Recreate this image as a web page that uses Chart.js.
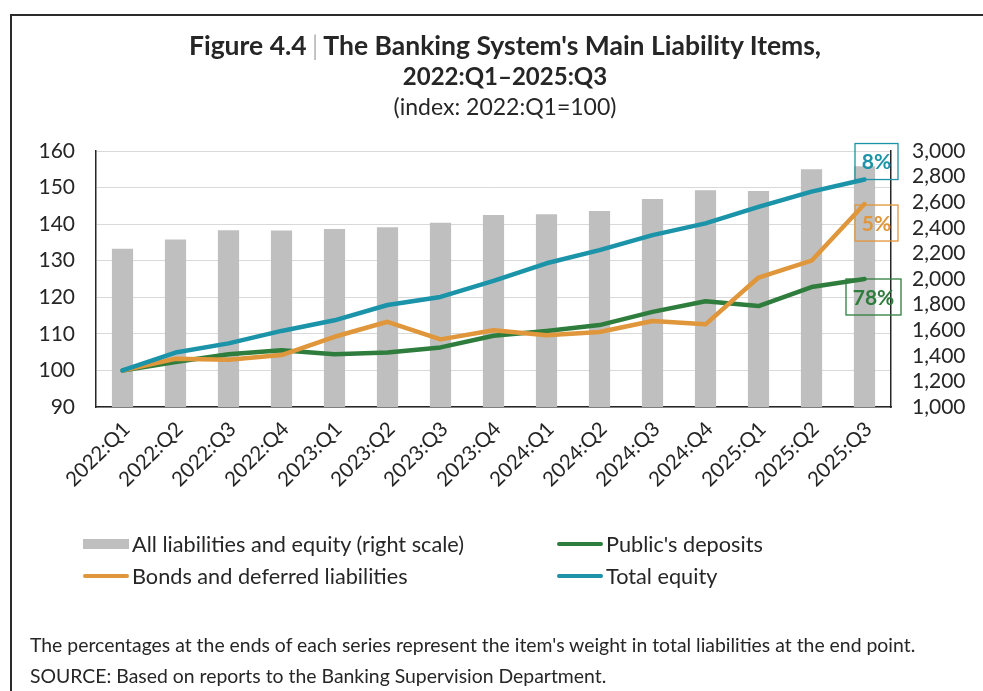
<!DOCTYPE html>
<html>
<head>
<meta charset="utf-8">
<script src="https://cdn.jsdelivr.net/npm/chart.js@4/dist/chart.umd.min.js"></script>
<style>
  html, body { margin: 0; padding: 0; background: #fff; }
  #page { position: relative; width: 983px; height: 691px; overflow: hidden; font-family: Lato, "Open Sans", sans-serif; color: #262626; }
  #frameTop { position: absolute; left: 10px; top: 14px; right: 0; height: 2px; background: #2b2b2b; }
  #frameLeft { position: absolute; left: 10px; top: 14px; width: 2px; bottom: 0; background: #2b2b2b; }
  #chart { position: absolute; left: 0; top: 0; }
  .title { position: absolute; left: 0; width: 1010px; text-align: center; white-space: nowrap; }
  .t1 { top: 30px; line-height: 30px; font-size: 26.5px; font-weight: 700; }
  .t2 { top: 61px; line-height: 30px; font-size: 24px; font-weight: 700; }
  .t3 { top: 91px; line-height: 30px; font-size: 23px; }
  .sep { color: #bfbfbf; font-weight: 400; padding: 0 5px; }
  .leg { position: absolute; display: flex; align-items: center; font-size: 21.7px; white-space: nowrap; }
  .leg .sw { width: 46px; margin-right: 3px; }
  .note { position: absolute; left: 30px; font-size: 19.4px; white-space: nowrap; }
</style>
</head>
<body>
<div id="page">
  <div id="frameTop"></div>
  <div id="frameLeft"></div>
  <canvas id="chart" width="983" height="691"></canvas>
  <div class="title t1">Figure 4.4<span class="sep">|</span>The Banking System's Main Liability Items,</div>
  <div class="title t2">2022:Q1–2025:Q3</div>
  <div class="title t3">(index: 2022:Q1=100)</div>
  <div id="legend"></div>
  <div class="note" style="top:633px">The percentages at the ends of each series represent the item's weight in total liabilities at the end point.</div>
  <div class="note" style="top:664px">SOURCE: Based on reports to the Banking Supervision Department.</div>
</div>
<script>
// Quarters shown on the category axis
const quarters = ['2022:Q1','2022:Q2','2022:Q3','2022:Q4','2023:Q1','2023:Q2','2023:Q3','2023:Q4',
                  '2024:Q1','2024:Q2','2024:Q3','2024:Q4','2025:Q1','2025:Q2','2025:Q3'];

// All liabilities and equity (right scale)
const totalLiabilities = [2237, 2308, 2380, 2378, 2390, 2404, 2440, 2500, 2505, 2531, 2625, 2693, 2688, 2857, 2880];

// Index series, 2022:Q1 = 100
const publicDeposits = [100, 102.3, 104.4, 105.5, 104.4, 104.9, 106.3, 109.5, 110.8, 112.4, 116.0, 118.9, 117.6, 122.8, 125.0];
const bondsDeferred  = [100, 103.2, 102.9, 104.2, 109.2, 113.3, 108.5, 111.0, 109.6, 110.5, 113.5, 112.6, 125.4, 130.0, 145.5];
const totalEquity    = [100, 104.9, 107.4, 110.8, 113.7, 117.9, 120.1, 124.5, 129.3, 132.9, 137.0, 140.2, 144.7, 148.9, 152.2];

// Weight of each item in total liabilities at the last quarter
const depositsShare = '78%';
const bondsShare = '5%';
const equityShare = '8%';

// Axis ticks
const leftTicks = [90, 100, 110, 120, 130, 140, 150, 160];
const rightTicks = [1000, 1200, 1400, 1600, 1800, 2000, 2200, 2400, 2600, 2800, 3000];

const GRAY = '#bfbfbf', GREEN = '#2e7d3c', ORANGE = '#e0963a', TEAL = '#1b93a9';
const TEXT = '#262626', AXIS = '#262626';
const FONT = 'Lato, "Open Sans", sans-serif';

// Boxed share label next to the final point of a line series
const endLabels = {
  id: 'endLabels',
  afterDatasetsDraw(chart) {
    const ctx = chart.ctx;
    chart.data.datasets.forEach((ds, i) => {
      if (!ds.endShare) return;
      const meta = chart.getDatasetMeta(i);
      const pt = meta.data[meta.data.length - 1];
      const px = pt.x, py = pt.y;
      let x0, x1, y0, y1;
      if (ds.endPlace === 'above') { x0 = px - 9.5; x1 = px + 33.5; y0 = py - 36; y1 = py; }
      else if (ds.endPlace === 'below') { x0 = px - 9.5; x1 = px + 33.5; y0 = py + 1; y1 = py + 37; }
      else { x0 = px - 18.5; x1 = px + 36.5; y0 = py; y1 = py + 36; }
      ctx.save();
      ctx.strokeStyle = ds.borderColor;
      ctx.lineWidth = 1.3;
      ctx.strokeRect(x0, y0, x1 - x0, y1 - y0);
      ctx.fillStyle = ds.borderColor;
      ctx.font = 'bold 21px ' + FONT;
      ctx.textAlign = 'center';
      ctx.textBaseline = 'middle';
      ctx.fillText(ds.endShare, (x0 + x1) / 2, (y0 + y1) / 2 + 1);
      ctx.restore();
    });
  }
};

const lineStyle = { type: 'line', yAxisID: 'y', pointRadius: 0, borderWidth: 4.5, tension: 0,
                    borderJoinStyle: 'round', borderCapStyle: 'round', fill: false };

const chart = new Chart(document.getElementById('chart'), {
  data: {
    labels: quarters,
    datasets: [
      { type: 'bar', label: 'All liabilities and equity (right scale)', data: totalLiabilities, yAxisID: 'y1',
        backgroundColor: GRAY, categoryPercentage: 1, barPercentage: 0.4, order: 4 },
      { ...lineStyle, label: "Public's deposits", data: publicDeposits, borderColor: GREEN, backgroundColor: GREEN,
        order: 3, endShare: depositsShare, endPlace: 'right' },
      { ...lineStyle, label: 'Bonds and deferred liabilities', data: bondsDeferred, borderColor: ORANGE, backgroundColor: ORANGE,
        order: 2, endShare: bondsShare, endPlace: 'below' },
      { ...lineStyle, label: 'Total equity', data: totalEquity, borderColor: TEAL, backgroundColor: TEAL,
        order: 1, endShare: equityShare, endPlace: 'above' }
    ]
  },
  options: {
    responsive: false,
    animation: false,
    events: [],
    layout: { padding: { top: 151, left: 0, right: 0, bottom: 184 } },
    plugins: { legend: { display: false }, title: { display: false }, tooltip: { enabled: false } },
    scales: {
      x: {
        type: 'category',
        grid: { display: true, drawOnChartArea: false, drawTicks: false },
        border: { display: true, color: AXIS, width: 1.5 },
        ticks: { color: TEXT, font: { family: FONT, size: 20.5 }, minRotation: 45, maxRotation: 45,
                 padding: 10, labelOffset: 4, autoSkip: false },
        afterFit(s) { s.height = 100; }
      },
      y: {
        position: 'left', min: 90, max: 160,
        afterBuildTicks(s) { s.ticks = leftTicks.map(v => ({ value: v })); },
        grid: { color: '#d9d9d9', lineWidth: 1, drawTicks: false },
        border: { display: true, color: AXIS, width: 1.5 },
        ticks: { color: TEXT, font: { family: FONT, size: 21 }, padding: 21, autoSkip: false },
        afterFit(s) { s.width = 96; }
      },
      y1: {
        position: 'right', min: 1000, max: 3000,
        afterBuildTicks(s) { s.ticks = rightTicks.map(v => ({ value: v })); },
        grid: { drawOnChartArea: false, drawTicks: false },
        border: { display: true, color: AXIS, width: 1.5 },
        ticks: { color: TEXT, font: { family: FONT, size: 21 }, padding: 21, autoSkip: false,
                 callback: v => v.toLocaleString('en-US') },
        afterFit(s) { s.width = 92; }
      }
    }
  },
  plugins: [endLabels]
});

// Two-column legend built from the chart's datasets
const legendPos = [
  { left: 83, top: 531 }, { left: 557, top: 531 },
  { left: 83, top: 563 }, { left: 557, top: 563 }
];
const legendEl = document.getElementById('legend');
chart.data.datasets.forEach((ds, i) => {
  const item = document.createElement('div');
  item.className = 'leg';
  item.style.left = legendPos[i].left + 'px';
  item.style.top = legendPos[i].top + 'px';
  const sw = document.createElement('span');
  sw.className = 'sw';
  if (ds.type === 'bar') { sw.style.height = '10px'; sw.style.background = ds.backgroundColor; }
  else { sw.style.height = '4px'; sw.style.borderRadius = '2px'; sw.style.background = ds.borderColor; }
  const txt = document.createElement('span');
  txt.textContent = ds.label;
  item.appendChild(sw);
  item.appendChild(txt);
  legendEl.appendChild(item);
});
</script>
</body>
</html>
